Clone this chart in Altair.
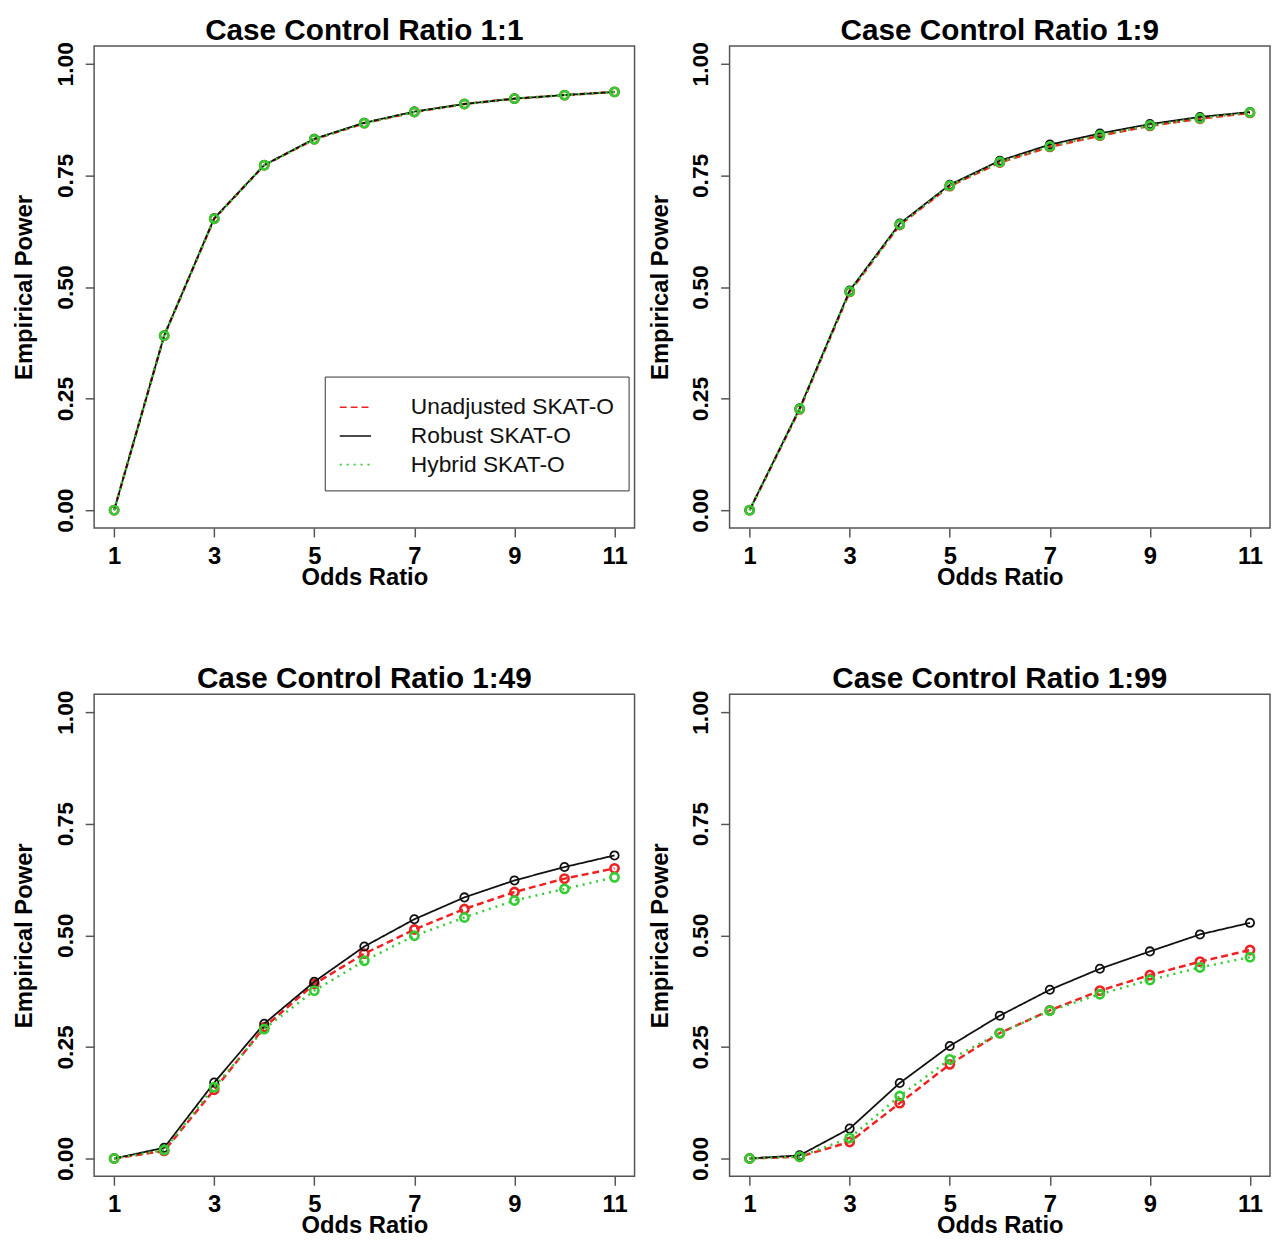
import altair as alt
import pandas as pd

# ---- data ----
odds_ratio = [1, 2, 3, 4, 5, 6, 7, 8, 9, 10, 11]
series_names = ["Unadjusted SKAT-O", "Robust SKAT-O", "Hybrid SKAT-O"]
panel_titles = [
    "Case Control Ratio 1:1",
    "Case Control Ratio 1:9",
    "Case Control Ratio 1:49",
    "Case Control Ratio 1:99",
]

p1_unadj = [0.0, 0.391, 0.653, 0.773, 0.831, 0.867, 0.892, 0.910, 0.922, 0.930, 0.937]
p1_robust = [0.0, 0.391, 0.654, 0.773, 0.832, 0.868, 0.893, 0.910, 0.922, 0.930, 0.937]
p1_hybrid = [0.0, 0.391, 0.653, 0.773, 0.831, 0.867, 0.892, 0.910, 0.922, 0.930, 0.937]

p2_unadj = [0.0, 0.226, 0.489, 0.639, 0.726, 0.779, 0.814, 0.839, 0.861, 0.877, 0.890]
p2_robust = [0.0, 0.228, 0.492, 0.642, 0.729, 0.783, 0.819, 0.844, 0.865, 0.881, 0.892]
p2_hybrid = [0.0, 0.227, 0.490, 0.640, 0.727, 0.780, 0.815, 0.840, 0.862, 0.878, 0.891]

p3_unadj = [0.0, 0.017, 0.154, 0.294, 0.391, 0.459, 0.513, 0.559, 0.597, 0.627, 0.650]
p3_robust = [0.0, 0.024, 0.170, 0.302, 0.396, 0.475, 0.536, 0.585, 0.623, 0.653, 0.679]
p3_hybrid = [0.0, 0.019, 0.160, 0.290, 0.376, 0.443, 0.499, 0.540, 0.578, 0.604, 0.630]

p4_unadj = [0.0, 0.004, 0.037, 0.124, 0.211, 0.281, 0.332, 0.376, 0.411, 0.441, 0.467]
p4_robust = [0.0, 0.007, 0.067, 0.169, 0.252, 0.320, 0.378, 0.425, 0.464, 0.502, 0.528]
p4_hybrid = [0.0, 0.004, 0.046, 0.140, 0.222, 0.281, 0.331, 0.368, 0.400, 0.428, 0.451]

panel_values = [
    [p1_unadj, p1_robust, p1_hybrid],
    [p2_unadj, p2_robust, p2_hybrid],
    [p3_unadj, p3_robust, p3_hybrid],
    [p4_unadj, p4_robust, p4_hybrid],
]

x_ticks = [1, 3, 5, 7, 9, 11]
y_ticks = [0.0, 0.25, 0.5, 0.75, 1.0]

# ---- styles ----
FONT = "Liberation Sans"
colors = ["#EE2222", "#111111", "#33CC33"]
dashes = [[7, 4], [1, 0], [2, 5]]
line_widths = {"Unadjusted SKAT-O": 2.5, "Robust SKAT-O": 1.8, "Hybrid SKAT-O": 2.5}
point_widths = {"Unadjusted SKAT-O": 2.6, "Robust SKAT-O": 1.8, "Hybrid SKAT-O": 2.6}

rows = []
for t, vals in zip(panel_titles, panel_values):
    for s, ys in zip(series_names, vals):
        for xv, yv in zip(odds_ratio, ys):
            rows.append({"panel": t, "series": s, "odds": xv, "power": yv})
df = pd.DataFrame(rows)

PW, PH = 546, 487


def make_panel(idx):
    title = panel_titles[idx]
    sub = df[df["panel"] == title]
    x = alt.X(
        "odds:Q",
        scale=alt.Scale(domain=[0.6, 11.4], nice=False, zero=False),
        axis=alt.Axis(
            values=x_ticks, format="d", title="Odds Ratio",
            labelPadding=8, titlePadding=-3, labelFlush=False,
        ),
    )
    y = alt.Y(
        "power:Q",
        scale=alt.Scale(domain=[-0.04, 1.04], nice=False, zero=False),
        axis=alt.Axis(
            values=y_ticks, format=".2f", title="Empirical Power",
            labelAngle=270, labelAlign="center", labelBaseline="alphabetic",
            labelPadding=13, titlePadding=18, labelFontSize=23,
        ),
    )
    if idx == 0:
        leg = alt.Legend(
            title=None, orient="none", legendX=233, legendY=334,
            symbolType="stroke", symbolSize=1000, symbolStrokeWidth=1.6,
            labelFont=FONT, labelFontSize=23, labelFontWeight="normal",
            labelColor="#111111", strokeColor="#333333", fillColor="white",
            padding=14, rowPadding=0, labelOffset=39, labelLimit=400,
        )
    else:
        leg = None
    color = alt.Color("series:N", scale=alt.Scale(domain=series_names, range=colors), legend=leg)
    dash = alt.StrokeDash("series:N", scale=alt.Scale(domain=series_names, range=dashes), legend=leg)
    stroke = alt.Stroke("series:N", scale=alt.Scale(domain=series_names, range=colors), legend=None)

    layers = []
    for s in series_names:
        d = sub[sub["series"] == s]
        base = alt.Chart(d)
        line = base.mark_line(strokeWidth=line_widths[s]).encode(
            x=x, y=y, color=color, strokeDash=dash
        )
        pts = base.mark_point(
            shape="circle", filled=False, size=70, opacity=1, strokeWidth=point_widths[s]
        ).encode(x=x, y=y, stroke=stroke)
        layers += [line, pts]
    return alt.layer(*layers).properties(
        width=PW,
        height=PH,
        title=alt.TitleParams(
            text=title, fontSize=30, fontWeight="bold", font=FONT, color="black",
            anchor="middle", frame="group", offset=-4,
        ),
    )


panels = [make_panel(i) for i in range(4)]

chart = (
    alt.concat(*panels, columns=2, spacing={"row": 73, "column": 12})
    .resolve_scale(color="independent", strokeDash="independent", stroke="independent")
    .properties(padding={"left": 4, "top": 0, "right": 0, "bottom": 0}, background="white")
    .configure_view(stroke="#555555", strokeWidth=1.5)
    .configure_axis(
        domain=False, grid=False, tickColor="#555555", tickWidth=1.5, tickSize=9,
        labelFont=FONT, labelFontSize=24, labelFontWeight="bold", labelColor="black",
        titleFont=FONT, titleFontSize=24, titleFontWeight="bold", titleColor="black",
    )
)

chart.save("out.html", embed_options={"renderer": "svg", "actions": False})
